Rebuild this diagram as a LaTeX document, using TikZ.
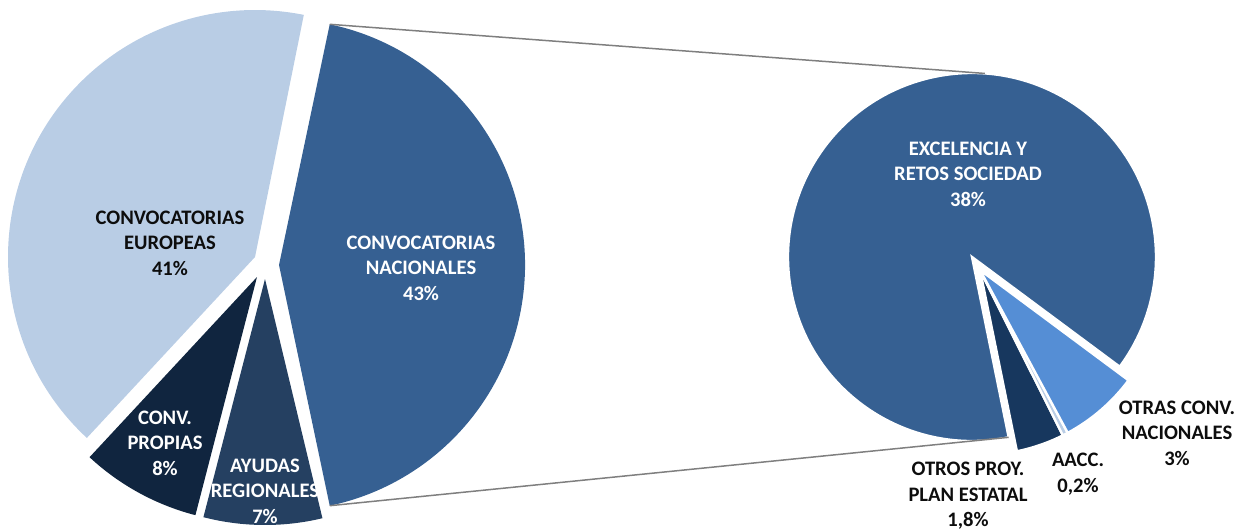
\documentclass[tikz,border=0pt]{standalone}
\usepackage{fontspec}
\setmainfont{Carlito}
\usetikzlibrary{calc}
\definecolor{ceur}{HTML}{B9CDE5}
\definecolor{cnac}{RGB}{54,96,146}
\definecolor{cpro}{HTML}{10253F}
\definecolor{creg}{HTML}{254061}
\definecolor{cotp}{HTML}{17375E}
\definecolor{caac}{HTML}{B9CDE5}
\definecolor{cotr}{HTML}{558ED5}
\definecolor{ctxt}{HTML}{0D0D0D}
\definecolor{cline}{HTML}{7F7F7F}
\tikzset{
  lbl/.style={font=\bfseries\fontsize{10.3pt}{12.7pt}\selectfont, align=center, inner sep=0pt},
  wlbl/.style={lbl, text=white},
  klbl/.style={lbl, text=ctxt},
  slice/.style={draw=white, line width=1.2pt, line join=miter},
  conn/.style={draw=cline, line width=0.75pt}
}
\begin{document}
\begin{tikzpicture}[x=0.5pt,y=-0.5pt]
\useasboundingbox (0,0) rectangle (1240,531);
% left pie apexes
\coordinate (cnacA) at (279,265);
\coordinate (ceurA) at (255,257);
\coordinate (cproA) at (257,277);
\coordinate (cregA) at (265,279);
% right pie apexes
\coordinate (cexcA) at (972,257);
\coordinate (csmA) at (980,270);
% left pie slices
\fill[cnac] (cnacA) -- ++(-78.1:246) arc[start angle=-78.1, end angle=78.1, radius=246] -- cycle;
\fill[ceur] (ceurA) -- ++(-227.1:247) arc[start angle=-227.1, end angle=-78.6, radius=247] -- cycle;
\fill[cpro] (cproA) -- ++(-255.5:246) arc[start angle=-255.5, end angle=-227.1, radius=246] -- cycle;
\fill[creg] (cregA) -- ++(-283.5:246) arc[start angle=-283.5, end angle=-255.5, radius=246] -- cycle;
% right pie slices
\filldraw[slice, fill=cnac] (cexcA) -- ++(-281.5:184) arc[start angle=-281.5, end angle=36.6, radius=184] -- cycle;
\filldraw[slice, fill=cotp] (csmA) -- ++(63.4:185) arc[start angle=63.4, end angle=78.5, radius=185] -- cycle;
\filldraw[slice, fill=caac] (csmA) -- ++(61.7:185) arc[start angle=61.7, end angle=63.4, radius=185] -- cycle;
\filldraw[slice, fill=cotr] (csmA) -- ++(36.6:185) arc[start angle=36.6, end angle=61.7, radius=185] -- cycle;
% connector ends
\coordinate (ntop) at ($(cnacA)+(-78.1:246)$);
\coordinate (nbot) at ($(cnacA)+(78.1:246)$);
\coordinate (etop) at ($(cexcA)+(-86:184)$);
\coordinate (ebot) at ($(cexcA)+(78.5:184)$);
\draw[conn] (ntop) -- (etop);
\draw[conn] (nbot) -- (ebot);
% labels
\node[klbl] (leur) at (170,243) {CONVOCATORIAS\\EUROPEAS\\41\%};
\node[wlbl] (lnac) at (421,268) {CONVOCATORIAS\\NACIONALES\\43\%};
\node[wlbl] (lpro) at (165,443) {CONV.\\PROPIAS\\8\%};
\node[wlbl] (lreg) at (265,491) {AYUDAS\\REGIONALES\\7\%};
\node[wlbl] (lexc) at (968,174) {EXCELENCIA Y\\RETOS SOCIEDAD\\38\%};
\node[klbl] (lotr) at (1177,433) {OTRAS CONV.\\NACIONALES\\3\%};
\node[klbl] (laac) at (1078,474) {AACC.\\0,2\%};
\node[klbl] (lotp) at (968,496) {OTROS PROY.\\PLAN ESTATAL\\1,8\%};
\end{tikzpicture}
\end{document}
